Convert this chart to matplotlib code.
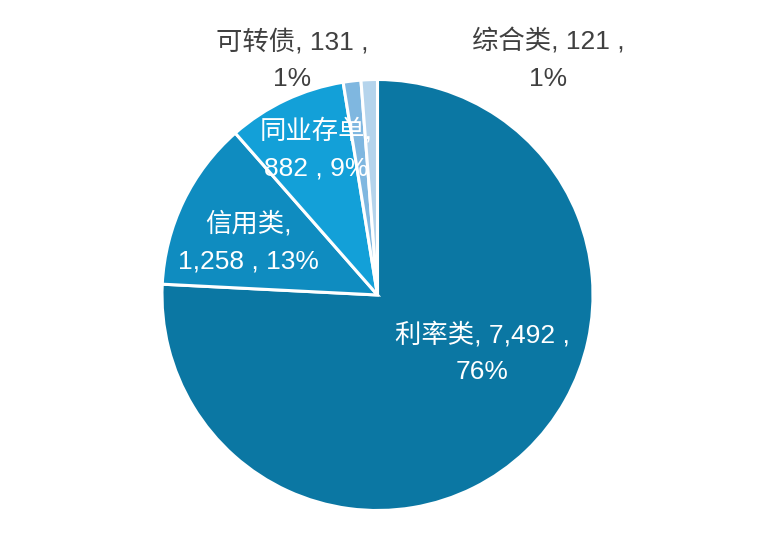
import matplotlib
matplotlib.use("Agg")
import matplotlib.pyplot as plt

plt.rcParams['font.family'] = ['Liberation Sans', 'Noto Sans CJK SC', 'DejaVu Sans']

categories = ["利率类", "信用类", "同业存单", "可转债", "综合类"]
values = [7492, 1258, 882, 131, 121]
percent_labels = ["76%", "13%", "9%", "1%", "1%"]
value_labels = ["7,492", "1,258", "882", "131", "121"]

colors = ["#0b77a3", "#0f8cc0", "#13a0d8", "#7fb7e0", "#b5d4ec"]
label_colors = ["white", "white", "white", "#404040", "#404040"]
label_texts = [
    f"{categories[0]}, {value_labels[0]} ,\n{percent_labels[0]}",
    f"{categories[1]},\n{value_labels[1]} , {percent_labels[1]}",
    f"{categories[2]},\n{value_labels[2]} , {percent_labels[2]}",
    f"{categories[3]}, {value_labels[3]} ,\n{percent_labels[3]}",
    f"{categories[4]}, {value_labels[4]} ,\n{percent_labels[4]}",
]
# label centres in pixel coordinates (x from left, y from top)
label_pos = [(482, 353), (248, 242), (316, 149), (292, 60), (548, 60)]

W, H = 781, 542
fig = plt.figure(figsize=(W / 100, H / 100), dpi=100)
ax = fig.add_axes([0, 0, 1, 1])

ax.pie(values, colors=colors, startangle=90, counterclock=False,
       center=(377.5, H - 295), radius=215.5,
       wedgeprops=dict(edgecolor='white', linewidth=2.2))
ax.set_xlim(0, W)
ax.set_ylim(0, H)
ax.set_aspect('equal')
ax.axis('off')

for txt, (px, py), c in zip(label_texts, label_pos, label_colors):
    ax.text(px, H - py, txt, color=c, fontsize=19, ha='center', va='center',
            linespacing=1.65)

fig.savefig("out.png", dpi=100)
